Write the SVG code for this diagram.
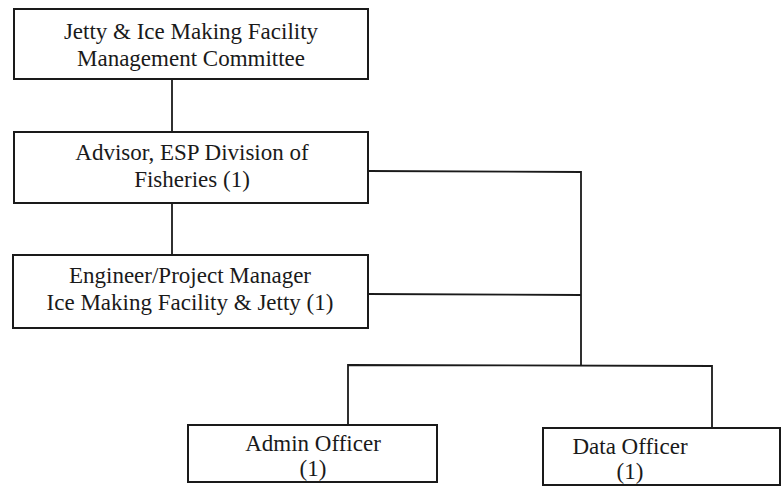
<svg xmlns="http://www.w3.org/2000/svg" width="784" height="489" viewBox="0 0 784 489">
<style>
.box{fill:#fff;stroke:#1a1a1a;stroke-width:2}
.t{font-family:"Liberation Serif","Times New Roman",serif;font-size:23px;fill:#1a1a1a;text-anchor:middle}
.c{fill:none;stroke:#1a1a1a;stroke-width:1.8}
</style>
<rect width="784" height="489" fill="#fff"/>
<g id="connectors">
<line class="c" x1="172" y1="79" x2="172" y2="132"/>
<line class="c" x1="172" y1="203" x2="172" y2="255"/>
<polyline class="c" points="368,171 581,172 581,365"/>
<line class="c" x1="368" y1="294" x2="581" y2="295"/>
<polyline class="c" points="348,425 348,365 712,366 712,428"/>
</g>
<g id="committee">
<rect class="box" x="14" y="9" width="354" height="70"/>
<text class="t" x="191" y="39">Jetty &amp; Ice Making Facility</text>
<text class="t" x="191" y="66">Management Committee</text>
</g>
<g id="advisor">
<rect class="box" x="14" y="132" width="354" height="71"/>
<text class="t" x="192" y="160">Advisor, ESP Division of</text>
<text class="t" x="192" y="187">Fisheries (1)</text>
</g>
<g id="engineer">
<rect class="box" x="13" y="255" width="355" height="73"/>
<text class="t" x="190" y="283">Engineer/Project Manager</text>
<text class="t" x="190" y="310">Ice Making Facility &amp; Jetty (1)</text>
</g>
<g id="admin">
<rect class="box" x="188" y="425" width="249" height="57"/>
<text class="t" x="313" y="451">Admin Officer</text>
<text class="t" x="313" y="476">(1)</text>
</g>
<g id="data">
<rect class="box" x="543" y="428" width="237" height="57"/>
<text class="t" x="630" y="454">Data Officer</text>
<text class="t" x="630" y="479">(1)</text>
</g>
</svg>
